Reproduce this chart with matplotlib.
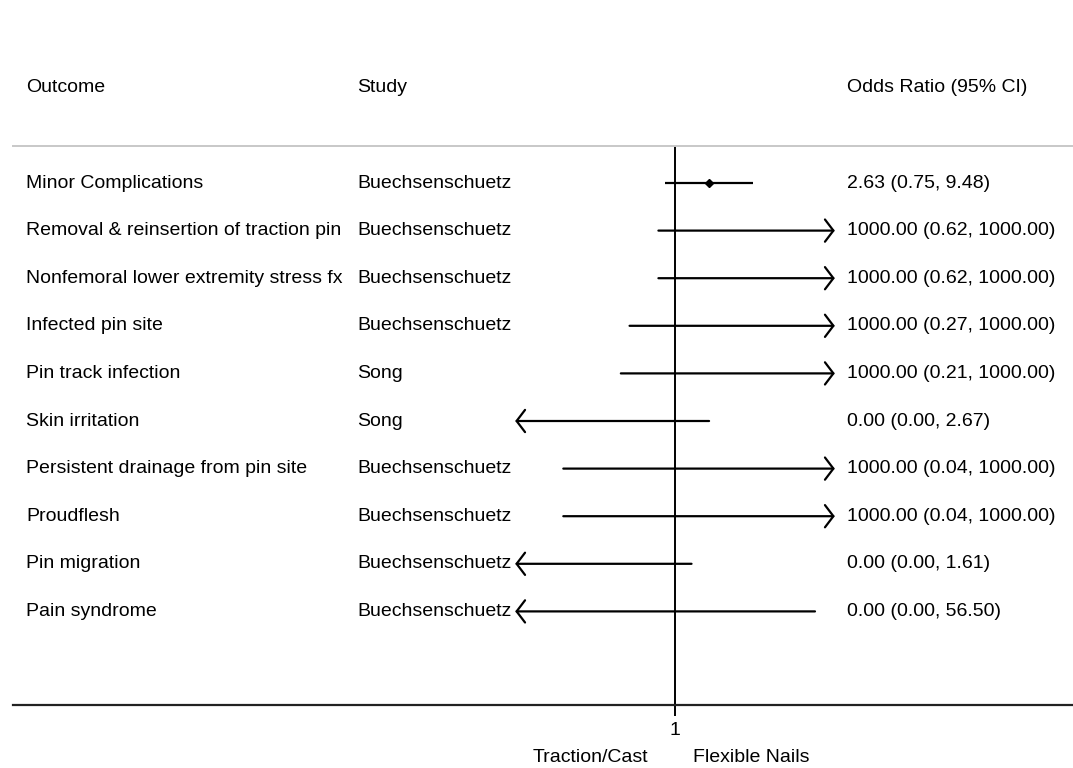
import numpy as np
import matplotlib

matplotlib.use("Agg")
import matplotlib.pyplot as plt

plt.rcParams["font.family"] = ["Liberation Sans", "DejaVu Sans"]
plt.rcParams["font.size"] = 14

outcomes = [
    "Minor Complications",
    "Removal & reinsertion of traction pin",
    "Nonfemoral lower extremity stress fx",
    "Infected pin site",
    "Pin track infection",
    "Skin irritation",
    "Persistent drainage from pin site",
    "Proudflesh",
    "Pin migration",
    "Pain syndrome",
]
studies = [
    "Buechsenschuetz", "Buechsenschuetz", "Buechsenschuetz", "Buechsenschuetz",
    "Song", "Song", "Buechsenschuetz", "Buechsenschuetz", "Buechsenschuetz",
    "Buechsenschuetz",
]
odds = [2.63, 1000.00, 1000.00, 1000.00, 1000.00, 0.00, 1000.00, 1000.00, 0.00, 0.00]
ci_low = [0.75, 0.62, 0.62, 0.27, 0.21, 0.00, 0.04, 0.04, 0.00, 0.00]
ci_high = [9.48, 1000.00, 1000.00, 1000.00, 1000.00, 2.67, 1000.00, 1000.00, 1.61, 56.50]

# display window on the OR axis; CIs beyond it get an arrowhead
x_min, x_max = 0.01, 100.0

W, H = 1073, 768
fig = plt.figure(figsize=(W / 100, H / 100), dpi=100)

# plot panel: pixel extents, log scale centred on OR = 1
left_px, right_px, top_px, bottom_px = 13, 1073, 146, 705
null_px, px_per_ln = 675, 34.7
ax = fig.add_axes([left_px / W, 1 - bottom_px / H,
                   (right_px - left_px) / W, (bottom_px - top_px) / H])
ax.set_xscale("log")
ax.set_xlim(np.exp((left_px - null_px) / px_per_ln),
            np.exp((right_px - null_px) / px_per_ln))

n = len(outcomes)
row0_px, row_step = 183, 47.6
ax.set_ylim((bottom_px - row0_px) / row_step, -(row0_px - top_px) / row_step)
rows = np.arange(n)

for s in ("left", "right"):
    ax.spines[s].set_visible(False)
ax.spines["bottom"].set_linewidth(1.6)
ax.spines["bottom"].set_color("#222222")
ax.spines["top"].set_linewidth(1.4)
ax.spines["top"].set_color("#c8c8c8")
ax.set_yticks([])
ax.xaxis.set_minor_locator(matplotlib.ticker.NullLocator())
ax.set_xticks([1])
ax.set_xticklabels(["1"])
ax.tick_params(axis="x", length=8, width=1.4, pad=4, labelsize=14)

ax.axvline(1, color="black", lw=1.4, zorder=1)

head = "->,head_length=0.38,head_width=0.5"
for i in rows:
    lo, hi = ci_low[i], ci_high[i]
    a, b = max(lo, x_min), min(hi, x_max)
    if hi > x_max:
        ax.annotate("", xy=(b, i), xytext=(a, i),
                    arrowprops=dict(arrowstyle=head, lw=1.6, color="black",
                                    mutation_scale=16, shrinkA=0, shrinkB=0))
    elif lo < x_min:
        ax.annotate("", xy=(a, i), xytext=(b, i),
                    arrowprops=dict(arrowstyle=head, lw=1.6, color="black",
                                    mutation_scale=16, shrinkA=0, shrinkB=0))
    else:
        ax.plot([a, b], [i, i], color="black", lw=1.6, solid_capstyle="butt")
    if x_min <= odds[i] <= x_max:
        ax.plot(odds[i], i, marker="D", color="black", markersize=4.5)

# text columns
col_outcome, col_study, col_or = 26, 357, 847
header_y = 87
tf = fig.transFigure
fig.text(col_outcome / W, 1 - header_y / H, "Outcome", va="center", ha="left")
fig.text(col_study / W, 1 - header_y / H, "Study", va="center", ha="left")
fig.text(col_or / W, 1 - header_y / H, "Odds Ratio (95% CI)", va="center", ha="left")

trans_rows = matplotlib.transforms.blended_transform_factory(tf, ax.transData)
for i in rows:
    ax.text(col_outcome / W, i, outcomes[i], transform=trans_rows,
            va="center", ha="left")
    ax.text(col_study / W, i, studies[i], transform=trans_rows,
            va="center", ha="left")
    ax.text(col_or / W, i, f"{odds[i]:.2f} ({ci_low[i]:.2f}, {ci_high[i]:.2f})",
            transform=trans_rows, va="center", ha="left")

# favour labels either side of the null line
fig.text((null_px - 27) / W, 1 - 757 / H, "Traction/Cast", va="center", ha="right")
fig.text((null_px + 18) / W, 1 - 757 / H, "Flexible Nails", va="center", ha="left")

fig.savefig("out.png", dpi=100)
